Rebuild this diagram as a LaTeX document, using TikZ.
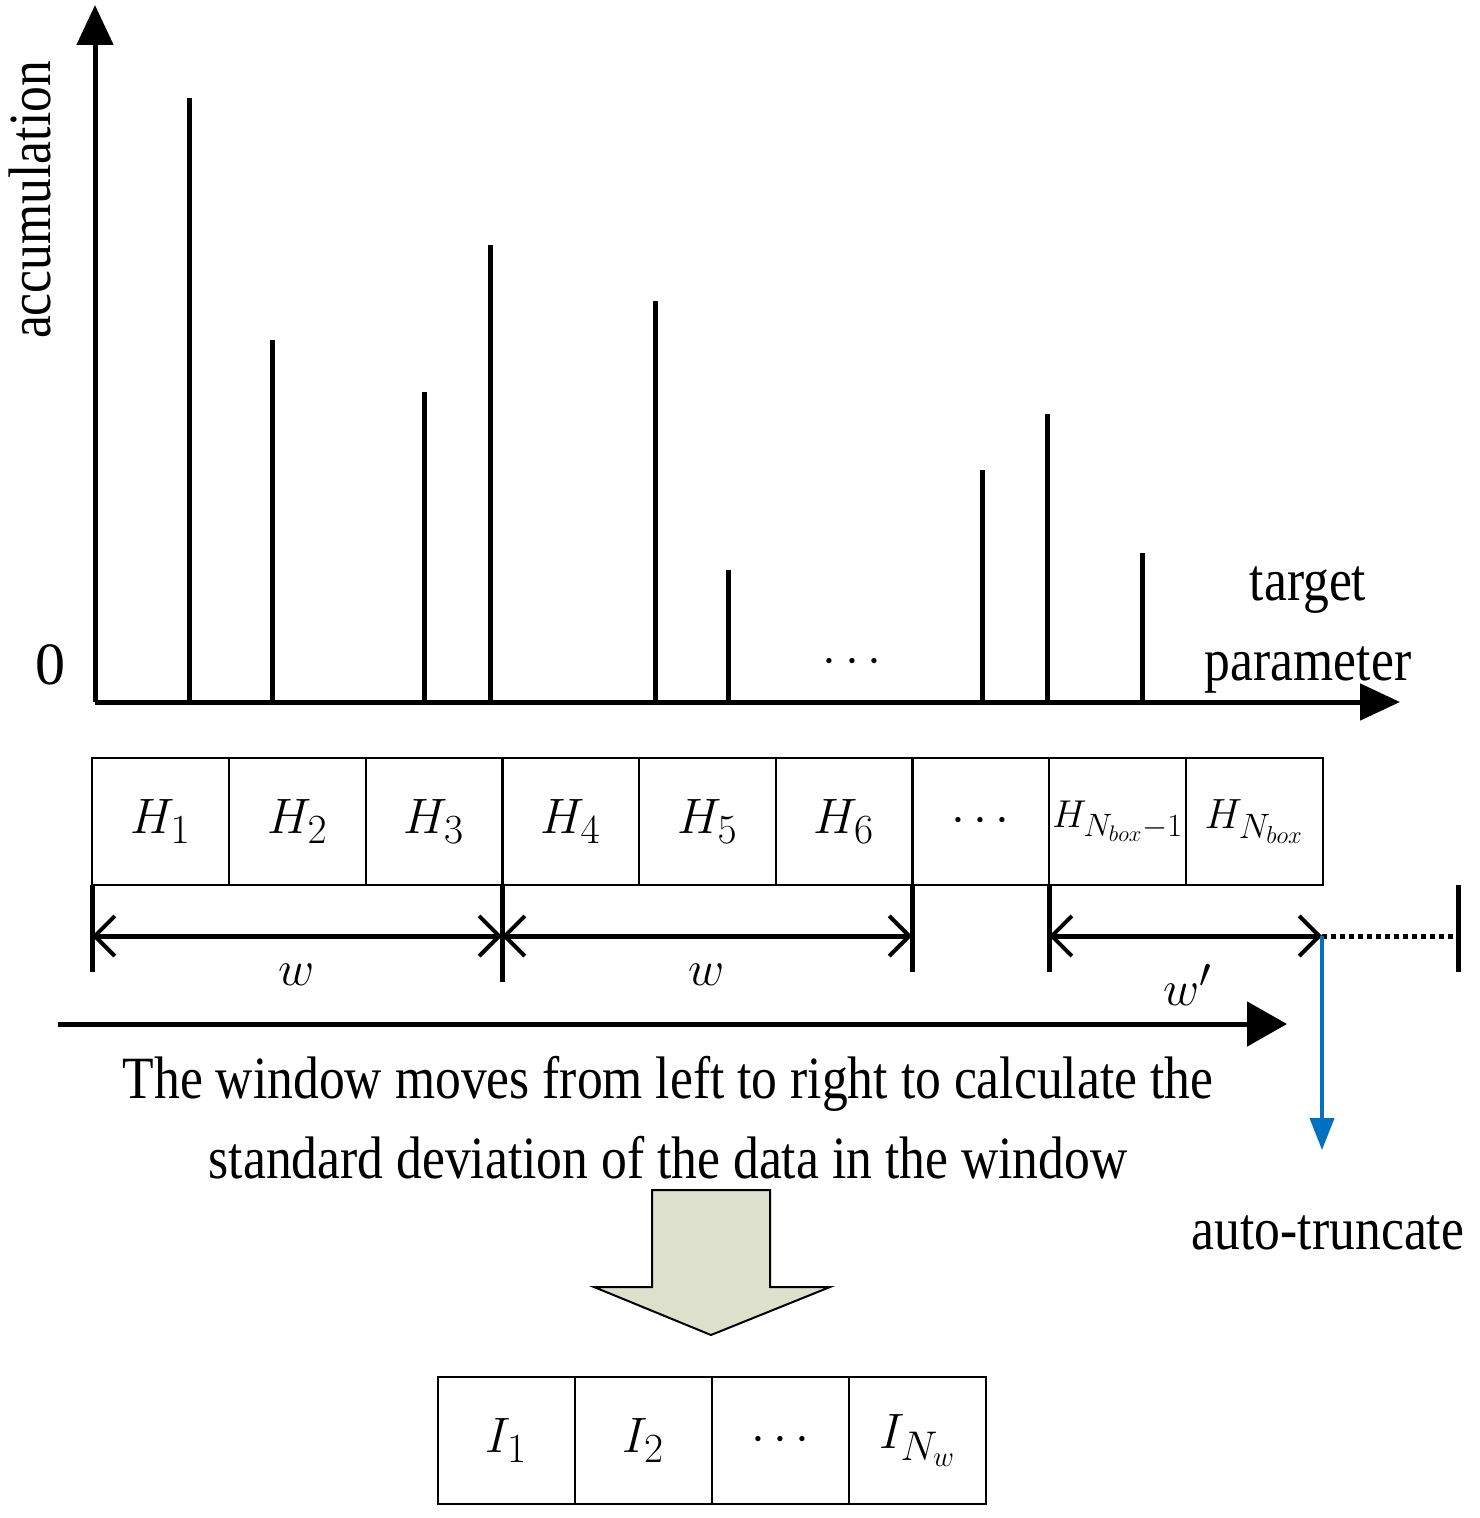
\documentclass[tikz,border=0pt]{standalone}
\usepackage{fontspec}
\setmainfont{Liberation Serif}
\usetikzlibrary{arrows.meta}
\newcommand\sqz[1]{\scalebox{0.86}[1]{#1}}
\begin{document}
\begin{tikzpicture}[x=0.5pt,y=-0.5pt,
  thick/.style={line width=2.5pt},
  box/.style={draw,line width=1pt,minimum width=68.5pt,minimum height=63.5pt,inner sep=0pt,font=\fontsize{28}{32}\selectfont},
  lab/.style={inner sep=0pt,font=\fontsize{28}{32}\selectfont},
  txt/.style={font=\fontsize{30}{36}\selectfont,inner sep=0pt},
  axtip/.style={-{Triangle[length=20pt,width=18pt]}},
  barb/.style={{Straight Barb[length=10pt,width=20pt,line width=2pt]}-{Straight Barb[length=10pt,width=20pt,line width=2pt]}}]
\useasboundingbox (0,0) rectangle (1479,1518);
% axes
\coordinate (o) at (95,702);
\coordinate (ytop) at (95,5);
\coordinate (xend) at (1400,702);
\draw[thick,axtip] (o) -- (ytop);
\draw[thick,axtip] (o) -- (xend);
\foreach \x/\t in {189/98,272/340,424/392,490/245,655/301,728/570,982/470,1047/414,1142/553}
  \draw[thick] (\x,702) -- (\x,\t);
\node[txt] (zero) at (50,665) {0};
\node[txt] (dots1) at (852,662) {$\cdots$};
\node[txt,align=center] (tp) at (1308,630) {\sqz{target}\\[4pt]\sqz{parameter}};
\node[txt,rotate=90] (acc) at (30,200) {\sqz{accumulation}};
% H boxes
\foreach \i/\x/\l in {1/160.5/$H_1$,2/297.5/$H_2$,3/434/$H_3$,4/570.5/$H_4$,5/707.5/$H_5$,6/844/$H_6$,7/980.5/$\cdots$}
  \node[box] (h\i) at (\x,821.5) {\l};
\node[box] (h8) at (1117.5,821.5) {};
\node[box] (h9) at (1254,821.5) {};
\node[lab] (h8l) at (h8) {\scalebox{0.78}{$H_{N_{box}-1}$}};
\node[lab] (h9l) at (h9) {\scalebox{0.85}{$H_{N_{box}}$}};
% dimension lines
\coordinate (a0) at (92,936); \coordinate (a1) at (502,936); \coordinate (a2) at (912,936);
\coordinate (a3) at (1049,936); \coordinate (a4) at (1322,936); \coordinate (a5) at (1458,936);
\draw[thick,barb] (a0) -- (a1);
\draw[thick,barb] (a1) -- (a2);
\draw[thick,barb] (a3) -- (a4);
\draw[thick,dotted] (a4) -- (a5);
\foreach \x/\b in {92/972,502/982,912/972,1049/972,1458/972}
  \draw[thick] (\x,885) -- (\x,\b);
\node[txt] (w1) at (297,975) {$w$};
\node[txt] (w2) at (707,975) {$w$};
\node[txt] (w3) at (1188,985) {$w'$};
% moving arrow
\coordinate (m0) at (58,1024); \coordinate (m1) at (1287,1024);
\draw[thick,-{Triangle[length=20pt,width=22pt]}] (m0) -- (m1);
\node[txt,align=center] (desc) at (668,1118) {\sqz{The window moves from left to right to calculate the}\\[4pt]\sqz{standard deviation of the data in the window}};
% blue arrow
\coordinate (bt) at (1322,1150);
\draw[line width=2pt,color={rgb,255:red,0;green,112;blue,192},-{Triangle[length=16pt,width=12pt]}] (a4) -- (bt);
\node[txt] (auto) at (1328,1233) {\sqz{auto-truncate}};
% block arrow
\draw[line width=1pt,fill={rgb,255:red,221;green,224;blue,204}] (652,1190) -- (770,1190) -- (770,1287) -- (830,1287) -- (711,1335) -- (594,1287) -- (652,1287) -- cycle;
% I boxes
\foreach \i/\x/\l in {1/506.5/$I_1$,2/643.5/$I_2$,3/780.5/$\cdots$,4/917.5/$I_{N_w}$}
  \node[box] (i\i) at (\x,1440.5) {\l};
\end{tikzpicture}
\end{document}
